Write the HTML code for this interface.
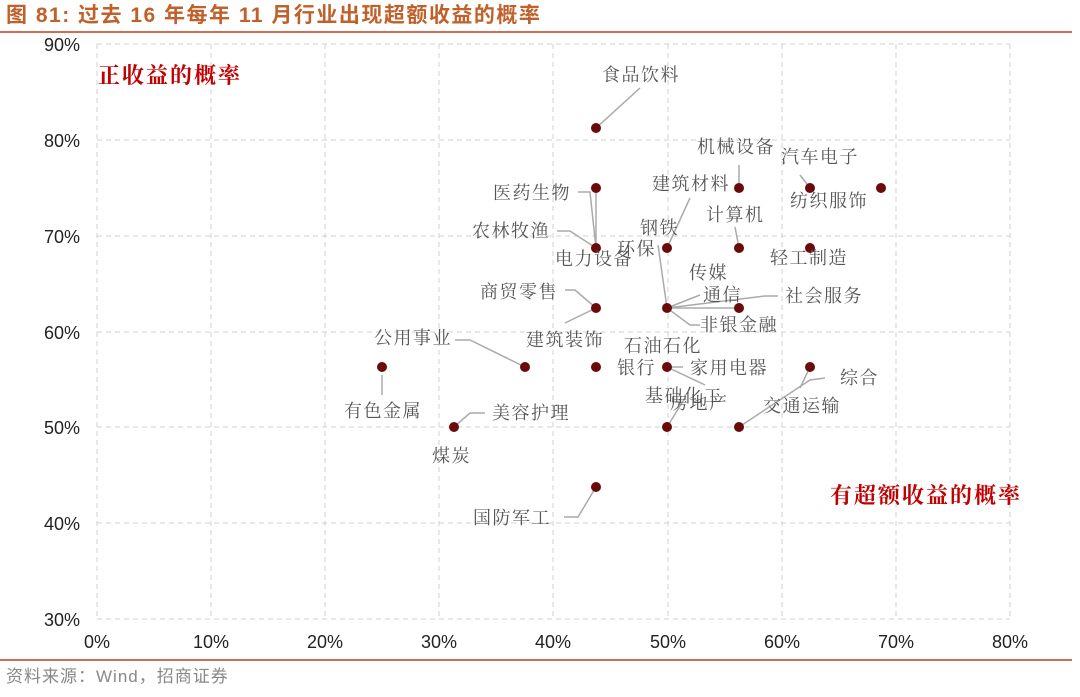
<!DOCTYPE html><html><head><meta charset="utf-8"><style>
body{margin:0;background:#fff;width:1080px;height:692px;overflow:hidden}
svg{font-family:"Liberation Sans","Noto Sans CJK SC",sans-serif}
.l{font-size:18px;letter-spacing:1.5px;fill:#555;font-family:"Noto Serif CJK SC","Noto Sans CJK SC",serif}
.t{font-size:18px;fill:#222}
</style></head><body>
<svg width="1080" height="692" xmlns="http://www.w3.org/2000/svg">
<text x="6" y="22" font-size="21" font-weight="bold" fill="#c0602a" letter-spacing="1.5" font-family="Liberation Sans,Noto Sans CJK SC,sans-serif">图 81:  过去 16 年每年 11 月行业出现超额收益的概率</text>
<line x1="0" y1="32" x2="1072" y2="32" stroke="#c87050" stroke-width="2"/>
<line x1="0" y1="660" x2="1072" y2="660" stroke="#c87050" stroke-width="2"/>
<text x="6" y="682" font-size="17" fill="#888" letter-spacing="1" font-family="Liberation Sans,Noto Sans CJK SC,sans-serif">资料来源：Wind，招商证券</text>
<g stroke="#d0d0d0" stroke-dasharray="5,4" stroke-width="1">
<line x1="97" y1="44" x2="1010" y2="44"/><line x1="97" y1="140" x2="1010" y2="140"/><line x1="97" y1="236" x2="1010" y2="236"/><line x1="97" y1="332" x2="1010" y2="332"/><line x1="97" y1="427" x2="1010" y2="427"/><line x1="97" y1="523" x2="1010" y2="523"/><line x1="97" y1="619" x2="1010" y2="619"/>
<line x1="97" y1="44" x2="97" y2="619"/><line x1="211" y1="44" x2="211" y2="619"/><line x1="325" y1="44" x2="325" y2="619"/><line x1="439" y1="44" x2="439" y2="619"/><line x1="553" y1="44" x2="553" y2="619"/><line x1="668" y1="44" x2="668" y2="619"/><line x1="782" y1="44" x2="782" y2="619"/><line x1="896" y1="44" x2="896" y2="619"/><line x1="1010" y1="44" x2="1010" y2="619"/>
</g>
<g class="t" text-anchor="end">
<text x="80" y="51">90%</text><text x="80" y="147">80%</text><text x="80" y="243">70%</text><text x="80" y="339">60%</text><text x="80" y="434">50%</text><text x="80" y="530">40%</text><text x="80" y="626">30%</text>
</g>
<g class="t" text-anchor="middle">
<text x="97" y="648">0%</text><text x="211" y="648">10%</text><text x="325" y="648">20%</text><text x="439" y="648">30%</text><text x="553" y="648">40%</text><text x="668" y="648">50%</text><text x="782" y="648">60%</text><text x="896" y="648">70%</text><text x="1010" y="648">80%</text>
</g>
<text x="98" y="83" font-size="22" font-weight="bold" fill="#c00000" letter-spacing="2" font-family="Noto Serif CJK SC,serif">正收益的概率</text>
<text x="830" y="503" font-size="22" font-weight="bold" fill="#c00000" letter-spacing="2" font-family="Noto Serif CJK SC,serif">有超额收益的概率</text>
<g stroke="#aaa" stroke-width="1.5" fill="none">
<path d="M640 88 L596 128"/>
<path d="M578 192 L590 192 L596 248"/><path d="M596 188 L596 248"/>
<path d="M557 231 L570 231 L596 248"/>
<path d="M565 290 L575 290 L596 308"/><path d="M565 323 L596 308"/>
<path d="M455 340 L470 340 L525 367"/>
<path d="M382 375 L382 395"/>
<path d="M454 427 L470 413 L485 413"/>
<path d="M690 198 L667 248"/><path d="M739 165 L739 188"/><path d="M735 227 L739 248"/>
<path d="M800 175 L810 188"/>
<path d="M700 295 L667 308 L765 296 L778 296"/><path d="M658 245 L667 308 L690 325 L700 325"/>
<path d="M670 308 L739 308"/>
<path d="M667 367 L683 367"/><path d="M667 367 L705 385"/>
<path d="M667 427 L685 398"/>
<path d="M739 427 L810 380 L825 378"/><path d="M810 367 L800 388"/>
<path d="M564 517 L578 517 L596 487"/>
</g>
<g fill="#6b0a0a">
<circle cx="596" cy="128" r="5"/><circle cx="596" cy="188" r="5"/><circle cx="596" cy="248" r="5"/><circle cx="596" cy="308" r="5"/><circle cx="596" cy="367" r="5"/><circle cx="596" cy="487" r="5"/>
<circle cx="382" cy="367" r="5"/><circle cx="525" cy="367" r="5"/><circle cx="454" cy="427" r="5"/>
<circle cx="667" cy="248" r="5"/><circle cx="667" cy="308" r="5"/><circle cx="667" cy="367" r="5"/><circle cx="667" cy="427" r="5"/>
<circle cx="739" cy="188" r="5"/><circle cx="739" cy="248" r="5"/><circle cx="739" cy="308" r="5"/><circle cx="739" cy="427" r="5"/>
<circle cx="810" cy="188" r="5"/><circle cx="810" cy="248" r="5"/><circle cx="810" cy="367" r="5"/><circle cx="881" cy="188" r="5"/>
</g>
<g class="l">
<text x="602" y="81">食品饮料</text>
<text x="493" y="199">医药生物</text>
<text x="472" y="237">农林牧渔</text>
<text x="555" y="265">电力设备</text>
<text x="617" y="255">环保</text>
<text x="640" y="234">钢铁</text>
<text x="652" y="190">建筑材料</text>
<text x="697" y="153">机械设备</text>
<text x="706" y="221">计算机</text>
<text x="781" y="163">汽车电子</text>
<text x="790" y="207">纺织服饰</text>
<text x="770" y="264">轻工制造</text>
<text x="689" y="279">传媒</text>
<text x="703" y="301">通信</text>
<text x="785" y="302">社会服务</text>
<text x="700" y="331">非银金融</text>
<text x="480" y="298">商贸零售</text>
<text x="526" y="346">建筑装饰</text>
<text x="374" y="344">公用事业</text>
<text x="624" y="352">石油石化</text>
<text x="617" y="374">银行</text>
<text x="690" y="374">家用电器</text>
<text x="645" y="402">基础化工</text>
<text x="670" y="409">房地产</text>
<text x="763" y="412">交通运输</text>
<text x="840" y="384">综合</text>
<text x="344" y="417">有色金属</text>
<text x="492" y="419">美容护理</text>
<text x="432" y="462">煤炭</text>
<text x="473" y="524">国防军工</text>
</g>
</svg>
</body></html>
